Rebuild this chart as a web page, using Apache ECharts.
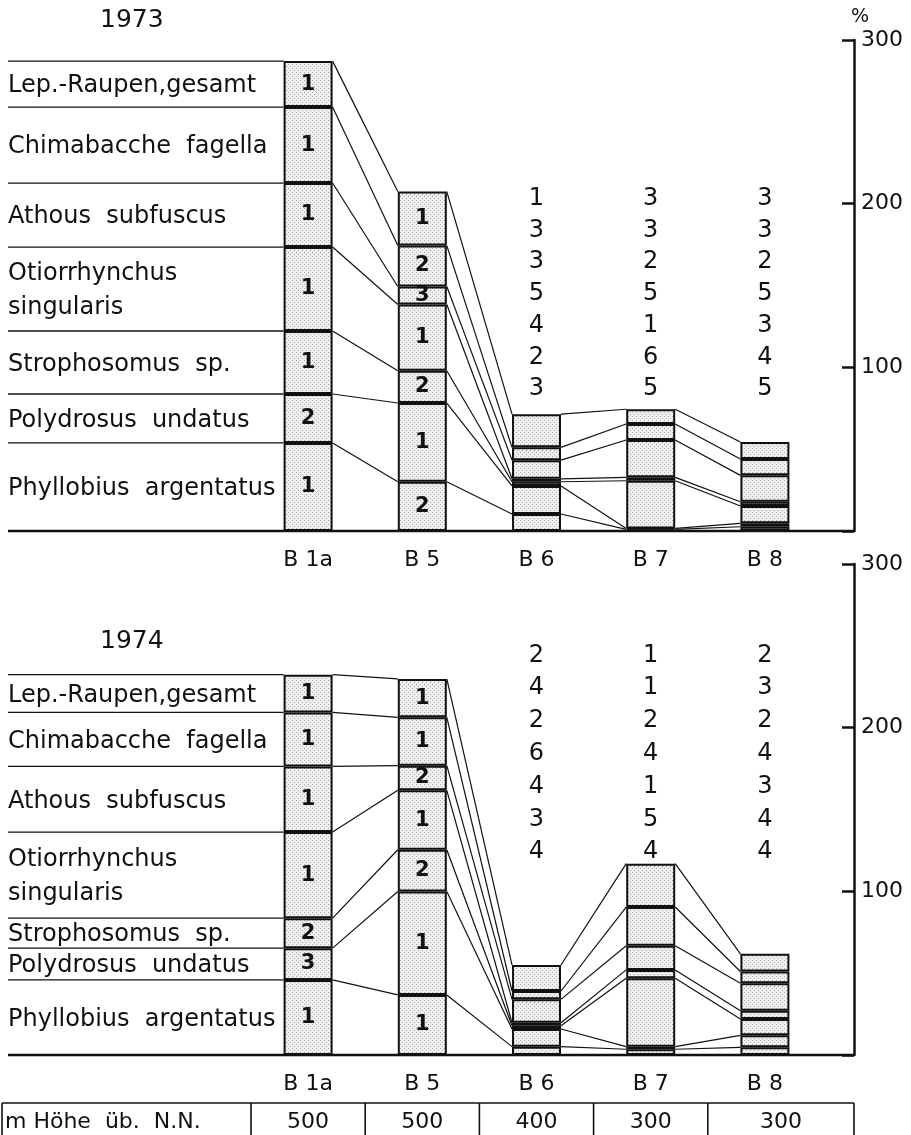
<!DOCTYPE html>
<html>
<head>
<meta charset="utf-8">
<script src="https://cdn.jsdelivr.net/npm/echarts@6/dist/echarts.min.js"></script>
<style>
    html, body { margin: 0; padding: 0; background: #fff; }
    #chart { width: 911px; height: 1135px; }
</style>
</head>
<body>
<div id="chart"></div>
<script>
    // stations (x categories) and their altitude row
    const stations = ['B 1a', 'B 5', 'B 6', 'B 7', 'B 8'];
    const altitude = [500, 500, 400, 300, 300];
    const years = ['1973', '1974'];
    const yTicks = [0, 100, 200, 300];

    // species, stacked from the bottom up
    const species = [
        'Phyllobius  argentatus',
        'Polydrosus  undatus',
        'Strophosomus  sp.',
        'Otiorrhynchus\nsingularis',
        'Athous  subfuscus',
        'Chimabacche  fagella',
        'Lep.-Raupen,gesamt'
    ];

    // % per species, columns B 1a .. B 8
    const pct1973 = [
        [53.8, 30.1, 10.4, 1.0, 2.6],
        [29.9, 48.1, 17.1, 0.6, 2.1],
        [38.5, 19.7, 2.6, 29.1, 10.6],
        [51.3, 40.5, 1.8, 2.1, 2.6],
        [39.1, 11.0, 11.4, 22.8, 16.1],
        [46.4, 25.0, 7.8, 9.8, 10.0],
        [28.1, 33.0, 20.3, 9.0, 10.4]
    ];
    const pct1974 = [
        [45.9, 36.7, 5.1, 3.5, 4.7],
        [19.4, 63.2, 10.8, 1.6, 7.3],
        [18.3, 25.5, 2.0, 41.8, 10.0],
        [52.6, 36.3, 1.8, 5.1, 5.1],
        [40.1, 15.1, 14.3, 14.7, 16.8],
        [33.0, 29.5, 5.1, 23.7, 7.1],
        [23.1, 23.5, 15.9, 26.5, 10.8]
    ];

    // rank numbers written in / above the bars
    const rank1973 = [
        [1, 2, 3, 5, 5],
        [2, 1, 2, 6, 4],
        [1, 2, 4, 1, 3],
        [1, 1, 5, 5, 5],
        [1, 3, 3, 2, 2],
        [1, 2, 3, 3, 3],
        [1, 1, 1, 3, 3]
    ];
    const rank1974 = [
        [1, 1, 4, 4, 4],
        [3, 1, 3, 5, 4],
        [2, 2, 4, 1, 3],
        [1, 1, 6, 4, 4],
        [1, 2, 2, 2, 2],
        [1, 1, 4, 1, 3],
        [1, 1, 2, 1, 2]
    ];

    const pcts = [pct1973, pct1974];
    const ranks = [rank1973, rank1974];

    // layout
    const FONT = 'DejaVu Sans';
    const INK = '#111';
    const GRID_LEFT = 251;
    const GRID_W = 571;
    const GRID_TOPS = [40, 564];
    const GRID_H = 491;
    const AXIS_X = 854;
    const BAR_W = 49;
    const LABEL_X = 8;
    const COLUMN_TOP = [143, 75];
    const COLUMN_STEP = [31.7, 32.8];

    // stipple fill for the bars
    const tex = document.createElement('canvas');
    tex.width = 4;
    tex.height = 4;
    const g = tex.getContext('2d');
    g.fillStyle = '#efefef';
    g.fillRect(0, 0, 4, 4);
    g.fillStyle = '#a8a8a8';
    g.fillRect(0, 0, 1, 1);
    g.fillRect(2, 2, 1, 1);
    const stipple = { image: tex, repeat: 'repeat' };

    function boundaries(pct) {
        return stations.map((s, j) => {
            let acc = 0;
            const b = [0];
            pct.forEach(row => { acc += row[j]; b.push(acc); });
            return b;
        });
    }

    function makeRender(p) {
        const cum = boundaries(pcts[p]);
        const rk = ranks[p];
        return function (params, api) {
            const i = params.dataIndex;
            const cs = params.coordSys;
            const half = BAR_W / 2;
            const cx = api.coord([i, 0])[0];
            const children = [];
            if (i === 0) {
                const base = api.coord([0, 0])[1];
                children.push({ type: 'line', shape: { x1: LABEL_X, y1: base, x2: AXIS_X, y2: base }, style: { stroke: INK, lineWidth: 2.5 } });
                for (let k = 1; k < cum[0].length; k++) {
                    const y = api.coord([0, cum[0][k]])[1];
                    children.push({ type: 'line', shape: { x1: LABEL_X, y1: y, x2: cx - half, y2: y }, style: { stroke: INK, lineWidth: 1.3 } });
                    const ym = api.coord([0, (cum[0][k - 1] + cum[0][k]) / 2])[1];
                    children.push({
                        type: 'text', x: LABEL_X, y: ym + 2,
                        style: { text: species[k - 1], fill: INK, fontSize: 24, fontFamily: FONT, verticalAlign: 'middle', lineHeight: 34 }
                    });
                }
            }
            if (i < stations.length - 1) {
                const nx = api.coord([i + 1, 0])[0];
                for (let k = 1; k < cum[i].length; k++) {
                    const a = api.coord([i, cum[i][k]]);
                    const b = api.coord([i + 1, cum[i + 1][k]]);
                    children.push({ type: 'line', shape: { x1: cx + half, y1: a[1], x2: nx - half, y2: b[1] }, style: { stroke: INK, lineWidth: 1.2 } });
                }
            }
            if (i >= 2) {
                const col = rk.map(r => r[i]).reverse().join('\n');
                children.push({
                    type: 'text', x: cx, y: cs.y + COLUMN_TOP[p],
                    style: { text: col, fill: INK, fontSize: 24, fontFamily: FONT, align: 'center', verticalAlign: 'top', lineHeight: COLUMN_STEP[p] }
                });
            }
            return { type: 'group', children: children };
        };
    }

    const grids = [], xAxes = [], yAxes = [], series = [];
    years.forEach((yr, p) => {
        grids.push({ left: GRID_LEFT, width: GRID_W, top: GRID_TOPS[p], height: GRID_H });
        xAxes.push({
            type: 'category', gridIndex: p, data: stations,
            axisLine: { show: false }, axisTick: { show: false },
            axisLabel: { color: INK, fontSize: 22, fontFamily: FONT, margin: 18 }
        });
        yAxes.push({
            type: 'value', gridIndex: p, position: 'right', offset: AXIS_X - GRID_LEFT - GRID_W,
            min: yTicks[0], max: yTicks[yTicks.length - 1], interval: 100,
            splitLine: { show: false },
            axisLine: { show: true, lineStyle: { color: INK, width: 2.5 } },
            axisTick: { show: true, inside: true, length: 12, lineStyle: { color: INK, width: 2.5 } },
            axisLabel: { color: INK, fontSize: 22, fontFamily: FONT, margin: 7, formatter: v => v === 0 ? '' : v }
        });
        pcts[p].forEach((row, k) => {
            series.push({
                type: 'bar', name: species[k], xAxisIndex: p, yAxisIndex: p, stack: 'y' + yr,
                data: row, barWidth: BAR_W,
                itemStyle: { color: stipple, borderColor: INK, borderWidth: 2 },
                label: {
                    show: true, position: 'inside', color: INK, fontSize: 21, fontWeight: 'bold', fontFamily: FONT,
                    formatter: prm => prm.dataIndex < 2 ? String(ranks[p][k][prm.dataIndex]) : ''
                },
                silent: true, animation: false
            });
        });
        series.push({
            type: 'custom', xAxisIndex: p, yAxisIndex: p,
            data: stations.map((s, i) => [i, 0]), encode: { x: 0, y: 1 },
            renderItem: makeRender(p), silent: true, animation: false, z: 5
        });
    });

    const chart = echarts.init(document.getElementById('chart'));
    chart.setOption({
        backgroundColor: '#fff',
        animation: false,
        grid: grids,
        xAxis: xAxes,
        yAxis: yAxes,
        series: series
    });

    // year titles, % sign and the altitude table
    const graphic = [
        { type: 'text', left: 100, top: 8, style: { text: years[0], fill: INK, fontSize: 25, fontFamily: FONT } },
        { type: 'text', left: 100, top: 629, style: { text: years[1], fill: INK, fontSize: 25, fontFamily: FONT } },
        { type: 'text', left: 851, top: 8, style: { text: '%', fill: INK, fontSize: 19, fontFamily: FONT } }
    ];
    const T_TOP = 1103, T_BOT = 1140, T_MID = 1122;
    const lineStyle = { stroke: INK, lineWidth: 1.6 };
    graphic.push({ type: 'line', shape: { x1: 2, y1: T_TOP, x2: AXIS_X, y2: T_TOP }, style: lineStyle });
    graphic.push({ type: 'line', shape: { x1: 2, y1: T_BOT, x2: AXIS_X, y2: T_BOT }, style: lineStyle });
    graphic.push({ type: 'line', shape: { x1: 2, y1: T_TOP, x2: 2, y2: T_BOT }, style: lineStyle });
    graphic.push({ type: 'line', shape: { x1: AXIS_X, y1: T_TOP, x2: AXIS_X, y2: T_BOT }, style: lineStyle });
    graphic.push({ type: 'text', x: 5, y: T_MID, style: { text: 'm Höhe  üb.  N.N.', fill: INK, fontSize: 22, fontFamily: FONT, verticalAlign: 'middle' } });
    const band = GRID_W / stations.length;
    altitude.forEach((h, i) => {
        const cx = chart.convertToPixel({ xAxisIndex: 1 }, i);
        const left = cx - band / 2;
        const right = i === stations.length - 1 ? AXIS_X : cx + band / 2;
        graphic.push({ type: 'line', shape: { x1: left, y1: T_TOP, x2: left, y2: T_BOT }, style: lineStyle });
        graphic.push({ type: 'text', x: (left + right) / 2, y: T_MID, style: { text: String(h), fill: INK, fontSize: 22, fontFamily: FONT, align: 'center', verticalAlign: 'middle' } });
    });
    chart.setOption({ graphic: graphic });
</script>
</body>
</html>
